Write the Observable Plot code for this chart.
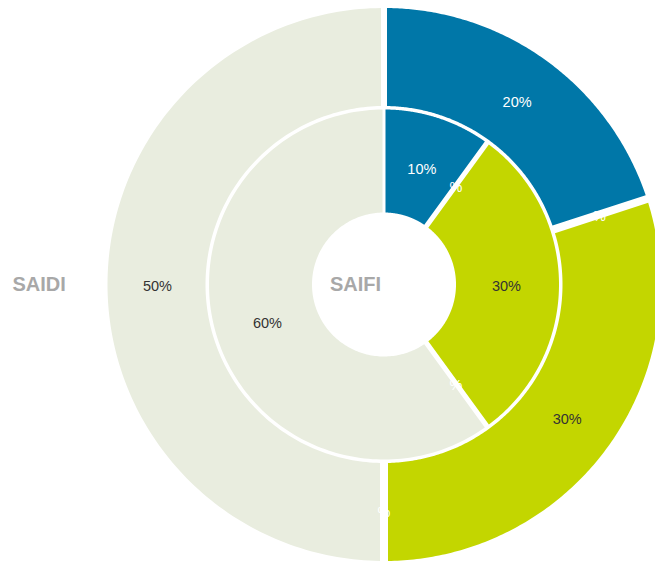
<!DOCTYPE html>
<html>
<head>
<meta charset="utf-8">
<script src="https://cdn.jsdelivr.net/npm/d3@7"></script>
<script src="https://cdn.jsdelivr.net/npm/@observablehq/plot@0.6"></script>
<style>
  html, body { margin: 0; padding: 0; background: #fff; }
  #chart svg { display: block; font-family: "Liberation Sans", Arial, sans-serif; }
</style>
</head>
<body>
<div id="chart"></div>
<script>
// ---- data ----
const categories = ["Category 1", "Category 2", "Category 3", "Category 4", "Category 5"];
const saidiValues = [20, 0, 30, 0, 50];   // outer ring
const saifiValues = [10, 0, 30, 0, 60];   // inner ring
const ringNames = ["SAIDI", "SAIFI"];
const sliceColors = ["#0077a8", "#ffffff", "#c3d600", "#ffffff", "#e9eddf"];
const labelDark = [false, false, true, false, true];

// ---- layout ----
const W = 655, H = 562;
const cx = 383.5, cy = 284;
const rings = [
  { name: ringNames[0], values: saidiValues, r0: 178.5, r1: 276.5, pad: 3, titleX: -371.5 },
  { name: ringNames[1], values: saifiValues, r0: 72, r1: 175, pad: 1.5, titleX: -54 }
];
const zeroExtra = 1;

const polyPoints = [];
const labels = [];
const titles = [];
rings.forEach(ring => {
  const vals = ring.values, n = vals.length;
  const arcs = d3.pie().sort(null).startAngle(0).endAngle(2 * Math.PI)(vals);
  arcs.forEach((a, i) => {
    const mid = (a.startAngle + a.endAngle) / 2;
    const rm = (ring.r0 + ring.r1) / 2 - 1;
    labels.push({
      x: rm * Math.sin(mid), y: rm * Math.cos(mid),
      text: a.value === 0 ? "%" : a.value + "%",
      dark: a.value !== 0 && labelDark[i]
    });
    if (a.value === 0) return;
    const ps = ring.pad + (vals[(i - 1 + n) % n] === 0 ? zeroExtra : 0);
    const pe = ring.pad + (vals[(i + 1) % n] === 0 ? zeroExtra : 0);
    const id = ring.name + "-" + i;
    const steps = 160;
    const a0 = a.startAngle + Math.asin(ps / ring.r1), a1 = a.endAngle - Math.asin(pe / ring.r1);
    for (let k = 0; k <= steps; k++) {
      const t = a0 + (a1 - a0) * k / steps;
      polyPoints.push({ id, category: categories[i], x: ring.r1 * Math.sin(t), y: ring.r1 * Math.cos(t) });
    }
    const b0 = a.startAngle + Math.asin(ps / ring.r0), b1 = a.endAngle - Math.asin(pe / ring.r0);
    for (let k = steps; k >= 0; k--) {
      const t = b0 + (b1 - b0) * k / steps;
      polyPoints.push({ id, category: categories[i], x: ring.r0 * Math.sin(t), y: ring.r0 * Math.cos(t) });
    }
  });
  titles.push({ x: ring.titleX, y: 0, text: ring.name });
});

const chart = Plot.plot({
  width: W,
  height: H,
  margin: 0,
  style: { fontFamily: '"Liberation Sans", Arial, sans-serif', background: "#fff" },
  x: { domain: [-cx, W - cx], axis: null },
  y: { domain: [-(H - cy), cy], axis: null },
  color: { domain: categories, range: sliceColors },
  marks: [
    Plot.line(polyPoints, { x: "x", y: "y", z: "id", fill: "category", stroke: "none", curve: "linear" }),
    Plot.text(labels.filter(d => !d.dark), { x: "x", y: "y", text: "text", fill: "#ffffff", fontSize: 14.5, dy: 1.5 }),
    Plot.text(labels.filter(d => d.dark), { x: "x", y: "y", text: "text", fill: "#333333", fontSize: 14.5, dy: 1.5 }),
    Plot.text(titles, { x: "x", y: "y", text: "text", textAnchor: "start", fill: "#a8a8a8", fontSize: 20, fontWeight: "bold", dy: 0.5 })
  ]
});
document.getElementById("chart").appendChild(chart);
</script>
</body>
</html>
